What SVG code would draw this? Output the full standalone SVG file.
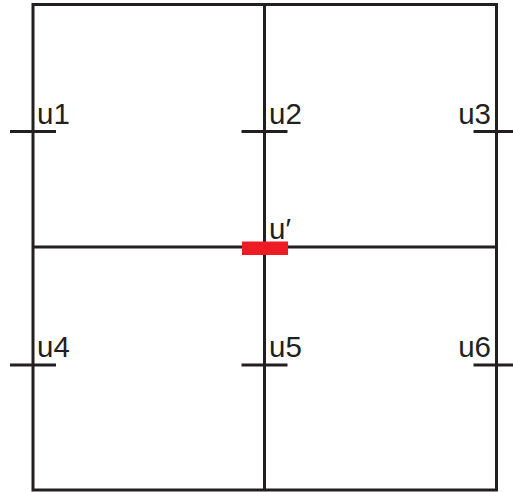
<svg xmlns="http://www.w3.org/2000/svg" width="513" height="492" viewBox="0 0 513 492">
<style>
.ln{stroke:#231f20;stroke-width:3;fill:none}
.lb{font-family:"Liberation Sans",Arial,sans-serif;font-size:29.5px;fill:#231f20}
</style>
<rect width="513" height="492" fill="#fff"/>
<g id="connectors">
<rect class="ln" x="33" y="4.5" width="463.5" height="485.5"/>
<line class="ln" x1="264.5" y1="4.5" x2="264.5" y2="490"/>
<line class="ln" x1="33" y1="247" x2="496.5" y2="247"/>
</g>
<g id="u1"><line class="ln" x1="10" y1="131.5" x2="56" y2="131.5"/><text class="lb" x="37" y="124">u1</text></g>
<g id="u2"><line class="ln" x1="241.5" y1="131.5" x2="287.5" y2="131.5"/><text class="lb" x="269" y="124">u2</text></g>
<g id="u3"><line class="ln" x1="473.5" y1="131.5" x2="519.5" y2="131.5"/><text class="lb" x="491" y="124" text-anchor="end">u3</text></g>
<g id="u4"><line class="ln" x1="10" y1="365" x2="56" y2="365"/><text class="lb" x="37" y="357">u4</text></g>
<g id="u5"><line class="ln" x1="241.5" y1="365" x2="287.5" y2="365"/><text class="lb" x="269" y="357">u5</text></g>
<g id="u6"><line class="ln" x1="473.5" y1="365" x2="519.5" y2="365"/><text class="lb" x="491" y="357" text-anchor="end">u6</text></g>
<g id="uprime"><rect x="242" y="241.5" width="46" height="13.5" fill="#ed1c24"/><text class="lb" x="269" y="239">u′</text></g>
</svg>
